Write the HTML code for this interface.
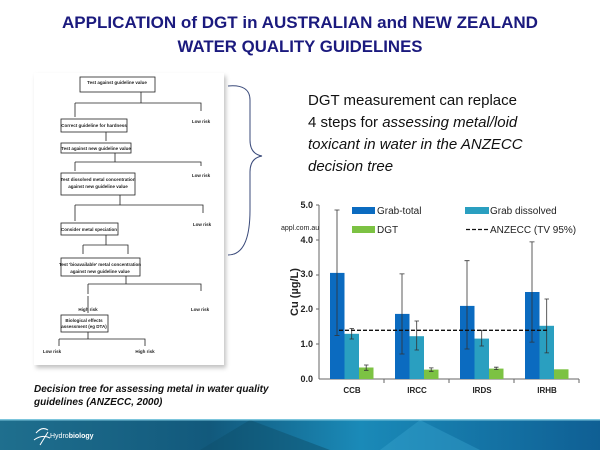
<!DOCTYPE html>
<html><head><meta charset="utf-8"><style>
html,body{margin:0;padding:0;background:#fff}
svg{display:block}
text{font-family:"Liberation Sans",sans-serif}
</style></head><body>
<svg width="600" height="450" viewBox="0 0 600 450" xmlns="http://www.w3.org/2000/svg">
<defs>
<linearGradient id="ft" x1="0" x2="1" y1="0" y2="0">
<stop offset="0" stop-color="#1f6f8e"/><stop offset="0.35" stop-color="#12597c"/><stop offset="0.6" stop-color="#1a8ab8"/><stop offset="1" stop-color="#0f5f94"/>
</linearGradient>
<filter id="sh"><feGaussianBlur stdDeviation="2"/></filter>
</defs>
<rect width="600" height="450" fill="#fff"/>
<text x="300" y="28" text-anchor="middle" font-size="17" font-weight="bold" fill="#1b1a7e" textLength="476" lengthAdjust="spacingAndGlyphs">APPLICATION of DGT in AUSTRALIAN and NEW ZEALAND</text>
<text x="300" y="52" text-anchor="middle" font-size="17" font-weight="bold" fill="#1b1a7e" textLength="245" lengthAdjust="spacingAndGlyphs">WATER QUALITY GUIDELINES</text>

<rect x="36" y="76" width="190" height="292" fill="#999" filter="url(#sh)" opacity="0.6"/>
<rect x="34" y="73" width="190" height="292" fill="#fff"/>
<g stroke="#222" stroke-width="0.8" fill="none">
<rect x="80" y="77" width="75" height="15"/>
<rect x="61" y="119" width="66" height="13"/>
<rect x="61" y="143" width="70" height="10"/>
<rect x="61" y="173" width="74" height="22"/>
<rect x="61" y="223" width="57" height="12"/>
<rect x="61" y="258" width="79" height="18"/>
<rect x="61" y="315" width="47" height="17"/>
<path d="M141 92V103M75 103H201V111M75 103V117M106 132V141M115 153V162M75 162H201V166M75 162V171M120 195V205M75 205H203V213M75 205V221M106 235V245M83 245H128V254M83 245V254M128 245V254M126 276V284M88 284H201V291M88 284V294M88 296V313M88 332V339M59 339H145V346M59 339V346"/>
</g>
<g font-size="4.5" fill="#222" text-anchor="middle" font-weight="bold">
<text x="117" y="84">Test against guideline value</text>
<text x="94" y="127">Correct guideline for hardness</text>
<text x="96" y="150">Test against new guideline value</text>
<text x="98" y="181">Test dissolved metal concentration</text>
<text x="98" y="188">against new guideline value</text>
<text x="89" y="231">Consider metal speciation</text>
<text x="100" y="266">Test 'bioavailable' metal concentration</text>
<text x="100" y="273">against new guideline value</text>
<text x="84" y="322">Biological effects</text>
<text x="84" y="328">assessment (eg DTA)</text>
<text x="201" y="123">Low risk</text>
<text x="201" y="177">Low risk</text>
<text x="202" y="226">Low risk</text>
<text x="200" y="311">Low risk</text>
<text x="88" y="311">High risk</text>
<text x="52" y="353">Low risk</text>
<text x="145" y="353">High risk</text>
</g>
<path d="M228 86 Q250 84 250 100 L250 140 Q250 154 262 156 Q250 158 250 172 L250 210 Q250 255 228 255" stroke="#3a4a7a" stroke-width="1" fill="none"/>
<text x="34" y="392" font-size="10" font-weight="bold" font-style="italic" fill="#111">Decision tree for assessing metal in water quality</text>
<text x="34" y="405" font-size="10" font-weight="bold" font-style="italic" fill="#111">guidelines (ANZECC, 2000)</text>

<g font-size="15" fill="#111">
<text x="308" y="105">DGT measurement can replace</text>
<text x="308" y="127">4 steps for <tspan font-style="italic">assessing metal/loid</tspan></text>
<text x="308" y="149" font-style="italic">toxicant in water in the ANZECC</text>
<text x="308" y="171" font-style="italic">decision tree</text>
</g>

<g font-size="9" font-weight="bold" fill="#222" text-anchor="end">
<text x="313" y="208">5.0</text><text x="313" y="243">4.0</text><text x="313" y="277">3.0</text>
<text x="313" y="312">2.0</text><text x="313" y="347">1.0</text><text x="313" y="382">0.0</text>
</g>
<text transform="translate(298,292) rotate(-90)" font-size="11" font-weight="bold" fill="#222" text-anchor="middle">Cu (µg/L)</text>
<text x="281" y="230" font-size="7" font-family="Liberation Serif" fill="#222">appl.com.au</text>
<g stroke="#666" stroke-width="1">
<line x1="319" y1="205" x2="319" y2="379"/>
<line x1="319" y1="379" x2="579" y2="379"/>
<line x1="384" y1="379" x2="384" y2="383"/><line x1="449" y1="379" x2="449" y2="383"/><line x1="514" y1="379" x2="514" y2="383"/><line x1="579" y1="379" x2="579" y2="383"/>
<line x1="316" y1="205" x2="319" y2="205"/><line x1="316" y1="240" x2="319" y2="240"/><line x1="316" y1="275" x2="319" y2="275"/><line x1="316" y1="309" x2="319" y2="309"/><line x1="316" y1="344" x2="319" y2="344"/>
</g>
<g>
<rect x="330" y="272.9" width="14.5" height="106.1" fill="#0b6bc0"/>
<rect x="344.5" y="333.8" width="14.5" height="45.2" fill="#2a9fc0"/>
<rect x="359" y="367.5" width="14.5" height="11.5" fill="#7cc243"/>
<rect x="395" y="313.9" width="14.5" height="65.1" fill="#0b6bc0"/>
<rect x="409.5" y="336.2" width="14.5" height="42.8" fill="#2a9fc0"/>
<rect x="424" y="369.6" width="14.5" height="9.4" fill="#7cc243"/>
<rect x="460" y="305.9" width="14.5" height="73.1" fill="#0b6bc0"/>
<rect x="474.5" y="338.6" width="14.5" height="40.4" fill="#2a9fc0"/>
<rect x="489" y="368.6" width="14.5" height="10.4" fill="#7cc243"/>
<rect x="525" y="292" width="14.5" height="87" fill="#0b6bc0"/>
<rect x="539.5" y="325.8" width="14.5" height="53.2" fill="#2a9fc0"/>
<rect x="554" y="369.3" width="14.5" height="9.7" fill="#7cc243"/>
</g>
<g stroke="#333" stroke-width="0.8">
<path d="M337 210V335.5M334.5 210H339.5M334.5 335.5H339.5"/>
<path d="M351.7 328.5V339M349.5 328.5H354M349.5 339H354"/>
<path d="M366.2 365V370.3M364 365H368.5M364 370.3H368.5"/>
<path d="M402 273.9V354M399.5 273.9H404.5M399.5 354H404.5"/>
<path d="M416.7 321V350M414.5 321H419M414.5 350H419"/>
<path d="M431.2 367.9V371.3M429 367.9H433.5M429 371.3H433.5"/>
<path d="M467 260.7V349M464.5 260.7H469.5M464.5 349H469.5"/>
<path d="M481.7 330.3V346M479.5 330.3H484M479.5 346H484"/>
<path d="M496.2 367.2V369.6M494 367.2H498.5M494 369.6H498.5"/>
<path d="M532 241.9V342.1M529.5 241.9H534.5M529.5 342.1H534.5"/>
<path d="M546.7 299V352.9M544.5 299H549M544.5 352.9H549"/>
</g>
<line x1="339" y1="330.3" x2="548" y2="330.3" stroke="#111" stroke-width="1.3" stroke-dasharray="4,2"/>
<g font-size="10" fill="#222">
<rect x="352" y="207" width="23" height="7" fill="#0b6bc0"/><text x="377" y="214">Grab-total</text>
<rect x="465" y="207" width="24" height="7" fill="#2a9fc0"/><text x="490" y="214">Grab dissolved</text>
<rect x="352" y="226" width="23" height="7" fill="#7cc243"/><text x="377" y="233">DGT</text>
<line x1="466" y1="229.5" x2="489" y2="229.5" stroke="#111" stroke-width="1.3" stroke-dasharray="4,2"/><text x="490" y="233">ANZECC (TV 95%)</text>
</g>
<g font-size="8" font-weight="bold" fill="#222" text-anchor="middle">
<text x="352" y="393">CCB</text><text x="417" y="393">IRCC</text><text x="482" y="393">IRDS</text><text x="547" y="393">IRHB</text>
</g>

<rect x="0" y="420" width="600" height="30" fill="url(#ft)"/>
<polygon points="250,420 330,450 200,450" fill="#0e4f6c" opacity="0.5"/>
<polygon points="420,420 480,450 380,450" fill="#3aa5d0" opacity="0.4"/>
<rect x="0" y="419" width="600" height="1.5" fill="#7cc5dc"/>
<path d="M36 433 Q42 426 48 430 M34 440 Q42 434 50 438 M40 445 L48 432" stroke="#fff" stroke-width="1" fill="none"/>
<text x="50" y="438" font-size="7" fill="#fff">Hydro<tspan font-weight="bold">biology</tspan></text>
</svg>
</body></html>
